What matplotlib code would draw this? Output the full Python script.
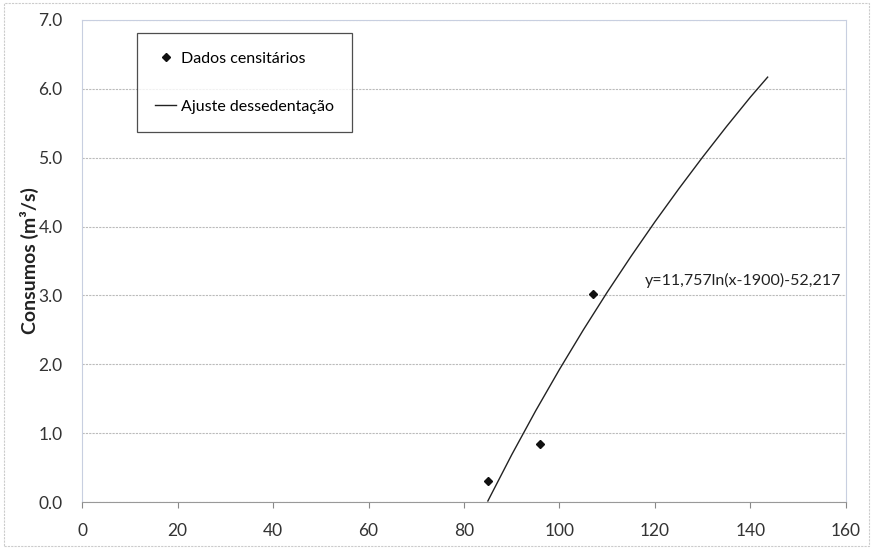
import matplotlib
matplotlib.use("Agg")
import matplotlib.pyplot as plt

plt.rcParams['font.family'] = ['Lato', 'DejaVu Sans']

# Census data points
census_x = [85, 96, 107]
census_y = [0.30, 0.84, 3.02]

# Fitted curve
fit_x = [85, 90, 95, 100, 105, 110, 115, 120, 125, 130, 135, 140, 143.6]
fit_y = [0.015, 0.687, 1.323, 1.926, 2.500, 3.047, 3.569, 4.070, 4.549, 5.010, 5.454, 5.881, 6.17]

x_ticks = [0, 20, 40, 60, 80, 100, 120, 140, 160]
y_ticks = [0, 1, 2, 3, 4, 5, 6, 7]
y_labels = ['0.0', '1.0', '2.0', '3.0', '4.0', '5.0', '6.0', '7.0']

equation = "y=11,757ln(x-1900)-52,217"

fig = plt.figure(figsize=(8.73, 5.49), dpi=100)
ax = fig.add_axes([0.094, 0.0856, 0.875, 0.878])

ax.plot(census_x, census_y, linestyle='none', marker='D', markersize=4.5,
        color='#111111', label='Dados censitários', zorder=3)
ax.plot(fit_x, fit_y, color='#222222', linewidth=1.0, label='Ajuste dessedentação', zorder=3)

ax.set_xlim(0, 160)
ax.set_ylim(0, 7)
ax.set_xticks(x_ticks)
ax.set_yticks(y_ticks)
ax.set_yticklabels(y_labels)
ax.tick_params(axis='y', length=0, labelsize=12.5, colors='#333333', pad=14)
ax.tick_params(axis='x', length=4, direction='out', labelsize=12.5, colors='#333333',
               color='#888888', pad=11)

ax.grid(axis='y', color='#bbbbbb', linestyle=(0, (2, 1)), linewidth=0.8)
ax.set_axisbelow(True)
for side in ['left', 'top', 'right']:
    ax.spines[side].set_color('#c8cfe0')
    ax.spines[side].set_linewidth(0.8)
ax.spines['bottom'].set_color('#999999')
ax.spines['bottom'].set_linestyle((0, (2, 1)))

ax.set_ylabel('Consumos (m³/s)', fontsize=14, fontweight='bold', color='#222222')
ax.yaxis.set_label_coords(-0.056, 0.5)

ax.text(117.9, 3.21, equation, fontsize=11.5, color='#222222', va='center', ha='left')

leg = ax.legend(loc='upper left', bbox_to_anchor=(0.072, 0.972), fontsize=11.5,
                frameon=True, fancybox=False, labelspacing=2.1, borderpad=1.15,
                handlelength=1.3, handletextpad=0.3, borderaxespad=0)
leg.get_frame().set_edgecolor('#222222')
leg.get_frame().set_linewidth(0.9)

# figure border
rect = plt.Rectangle((0.005, 0.005), 0.99, 0.99, transform=fig.transFigure,
                     fill=False, edgecolor='#cccccc', linestyle=(0, (2, 1)), linewidth=0.8)
fig.patches.append(rect)

fig.savefig('out.png', dpi=100)
